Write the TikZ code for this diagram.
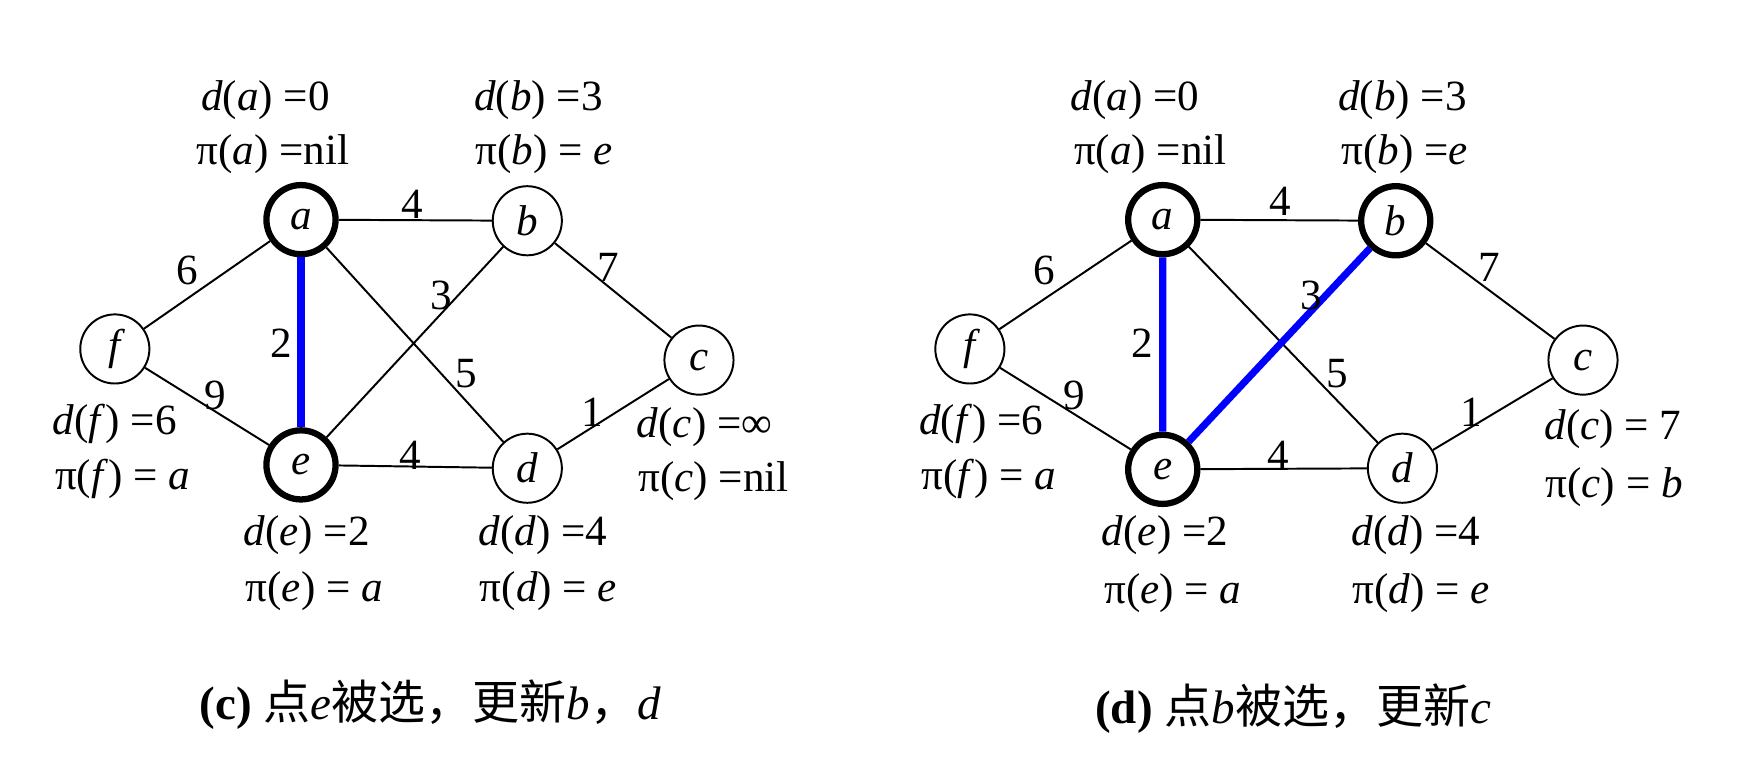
\documentclass[tikz,border=0pt]{standalone}
\usepackage{fontspec}
\setmainfont{Liberation Serif}
\newfontfamily\cjk{Noto Sans CJK SC}
\begin{document}
\begin{tikzpicture}[x=0.1mm,y=-0.1mm,
  vtx/.style={circle,draw,line width=0.5pt,minimum size=6.2mm,inner sep=0pt,font=\fontsize{11}{13}\selectfont\itshape},
  sel/.style={vtx,line width=1.6pt},
  ed/.style={line width=0.5pt},
  bl/.style={blue,line width=1.8pt},
  wt/.style={font=\fontsize{11}{13}\selectfont,inner sep=0pt},
  lab/.style={font=\fontsize{11}{13}\selectfont,inner sep=0pt,align=left},
  captext/.style={font=\fontsize{12}{14}\selectfont,inner sep=0pt}]
\useasboundingbox (0,0) rectangle (1568,685);
% left
\node[sel] (a) at (270,197) {a};
\node[vtx] (b) at (473,198) {b};
\node[vtx] (f) at (103,313) {f};
\node[vtx] (c) at (627,323) {c};
\node[sel] (e) at (270,417) {e};
\node[vtx] (d) at (473,420) {d};
\draw[ed] (a)--(b) (a)--(f) (f)--(e) (a)--(d) (e)--(b) (b)--(c) (e)--(d) (d)--(c);
\draw[bl] (a)--(e);
\node[wt] (w1) at (370,183) {4};
\node[wt] (w2) at (168,243) {6};
\node[wt] (w3) at (396,265) {3};
\node[wt] (w4) at (546,240) {7};
\node[wt] (w5) at (252,308) {2};
\node[wt] (w6) at (418,335) {5};
\node[wt] (w7) at (193,355) {9};
\node[wt] (w8) at (531,370) {1};
\node[wt] (w9) at (368,408) {4};
\node[lab] (la1) at (238,90) {\textit{d}(\textit{a}) =0};
\node[lab] (la2) at (245,138) {π(\textit{a}) =nil};
\node[lab] (lb1) at (483,90) {\textit{d}(\textit{b}) =3};
\node[lab] (lb2) at (488,138) {π(\textit{b}) = \textit{e}};
\node[lab] (lf1) at (103,380) {\textit{d}(\textit{f}) =6};
\node[lab] (lf2) at (110,430) {π(\textit{f}) = \textit{a}};
\node[lab] (lc1) at (632,383) {\textit{d}(\textit{c}) =∞};
\node[lab] (lc2) at (640,432) {π(\textit{c}) =nil};
\node[lab] (le1) at (275,480) {\textit{d}(\textit{e}) =2};
\node[lab] (le2) at (282,530) {π(\textit{e}) = \textit{a}};
\node[lab] (ld1) at (487,480) {\textit{d}(\textit{d}) =4};
\node[lab] (ld2) at (492,530) {π(\textit{d}) = \textit{e}};
\node[captext] (capc) at (386,632) {\textbf{(c)} {\cjk 点}\textit{e}{\cjk 被选，更新}\textit{b}{\cjk ，}\textit{d}};
% right
\node[sel] (A) at (1043,197) {a};
\node[sel] (B) at (1252,198) {b};
\node[vtx] (F) at (870,313) {f};
\node[vtx] (C) at (1420,323) {c};
\node[sel] (E) at (1043,421) {e};
\node[vtx] (D) at (1258,420) {d};
\draw[ed] (A)--(B) (A)--(F) (F)--(E) (A)--(D) (B)--(C) (E)--(D) (D)--(C);
\draw[bl] (A)--(E) (E)--(B);
\node[wt] (W1) at (1148,181) {4};
\node[wt] (W2) at (937,243) {6};
\node[wt] (W3) at (1176,265) {3};
\node[wt] (W4) at (1336,240) {7};
\node[wt] (W5) at (1025,308) {2};
\node[wt] (W6) at (1200,335) {5};
\node[wt] (W7) at (964,355) {9};
\node[wt] (W8) at (1320,370) {1};
\node[wt] (W9) at (1147,408) {4};
\node[lab] (LA1) at (1018,90) {\textit{d}(\textit{a}) =0};
\node[lab] (LA2) at (1032,138) {π(\textit{a}) =nil};
\node[lab] (LB1) at (1258,90) {\textit{d}(\textit{b}) =3};
\node[lab] (LB2) at (1260,138) {π(\textit{b}) =\textit{e}};
\node[lab] (LF1) at (880,380) {\textit{d}(\textit{f}) =6};
\node[lab] (LF2) at (887,430) {π(\textit{f}) = \textit{a}};
\node[lab] (LC1) at (1447,385) {\textit{d}(\textit{c}) = 7};
\node[lab] (LC2) at (1448,437) {π(\textit{c}) = \textit{b}};
\node[lab] (LE1) at (1045,480) {\textit{d}(\textit{e}) =2};
\node[lab] (LE2) at (1052,532) {π(\textit{e}) = \textit{a}};
\node[lab] (LD1) at (1270,480) {\textit{d}(\textit{d}) =4};
\node[lab] (LD2) at (1275,532) {π(\textit{d}) = \textit{e}};
\node[captext] (capd) at (1160,636) {\textbf{(d)} {\cjk 点}\textit{b}{\cjk 被选，更新}\textit{c}};
\end{tikzpicture}
\end{document}
